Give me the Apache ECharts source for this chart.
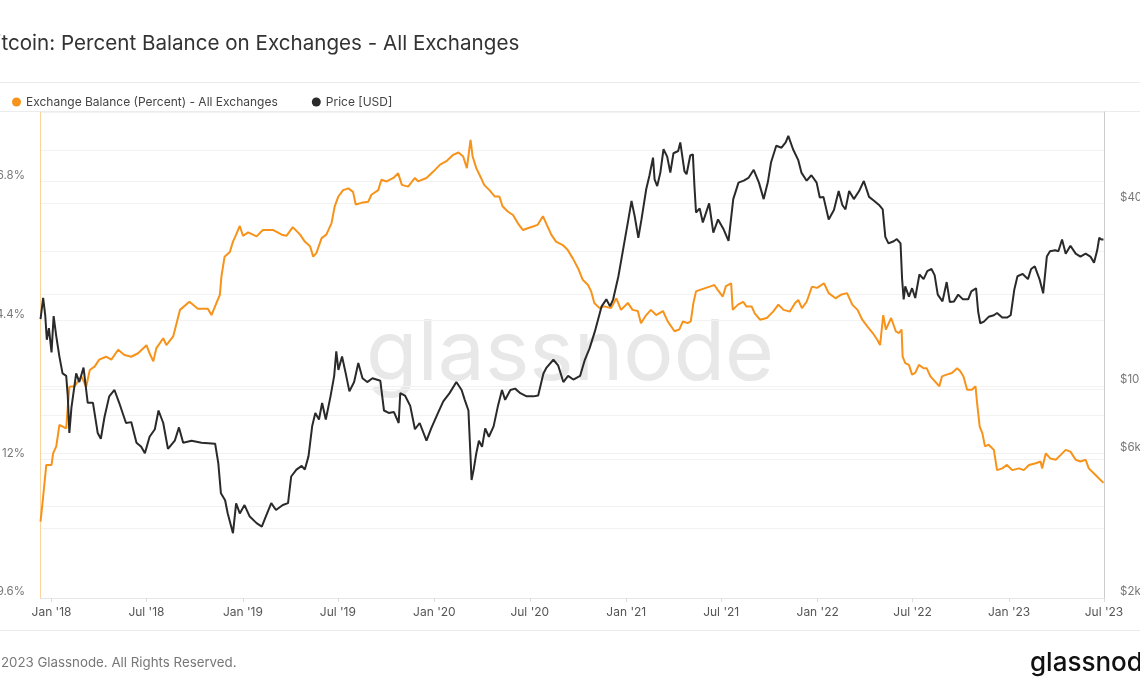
<!DOCTYPE html>
<html><head><meta charset="utf-8">
<script src="https://cdn.jsdelivr.net/npm/echarts@6/dist/echarts.min.js"></script>
<style>html,body{margin:0;padding:0;background:#fff;}#c{width:1140px;height:694px;}</style>
</head><body><div id="c"></div>
<script>
const balanceDates = ['2017-12-11','2017-12-16','2017-12-22','2018-01-01','2018-01-04','2018-01-10','2018-01-16','2018-01-29','2018-02-01','2018-02-04','2018-02-14','2018-02-27','2018-03-08','2018-03-15','2018-03-24','2018-04-02','2018-04-15','2018-04-25','2018-05-08','2018-05-20','2018-06-02','2018-06-15','2018-07-01','2018-07-07','2018-07-14','2018-07-20','2018-08-02','2018-08-08','2018-08-21','2018-09-03','2018-09-21','2018-10-07','2018-10-26','2018-11-02','2018-11-11','2018-11-18','2018-11-21','2018-11-27','2018-12-07','2018-12-13','2018-12-19','2018-12-26','2019-01-01','2019-01-11','2019-01-27','2019-02-08','2019-02-28','2019-03-16','2019-03-25','2019-04-06','2019-04-20','2019-04-29','2019-05-09','2019-05-15','2019-05-21','2019-05-31','2019-06-09','2019-06-19','2019-06-25','2019-07-02','2019-07-11','2019-07-21','2019-07-30','2019-08-04','2019-08-15','2019-08-28','2019-09-03','2019-09-16','2019-09-22','2019-10-02','2019-10-15','2019-10-24','2019-10-31','2019-11-12','2019-11-25','2019-12-01','2019-12-17','2019-12-30','2020-01-12','2020-01-24','2020-02-06','2020-02-16','2020-02-25','2020-03-03','2020-03-10','2020-03-14','2020-03-21','2020-03-30','2020-04-05','2020-04-15','2020-04-25','2020-05-04','2020-05-10','2020-05-20','2020-05-30','2020-06-08','2020-06-18','2020-06-27','2020-07-07','2020-07-16','2020-07-26','2020-08-01','2020-08-11','2020-08-20','2020-09-02','2020-09-11','2020-09-21','2020-10-01','2020-10-10','2020-10-20','2020-10-26','2020-11-01','2020-11-11','2020-11-20','2020-12-03','2020-12-13','2020-12-22','2021-01-04','2021-01-13','2021-01-23','2021-01-29','2021-02-08','2021-02-17','2021-02-27','2021-03-12','2021-03-21','2021-04-03','2021-04-12','2021-04-19','2021-04-28','2021-05-04','2021-05-09','2021-05-14','2021-05-23','2021-06-02','2021-06-12','2021-06-18','2021-06-24','2021-07-04','2021-07-10','2021-07-20','2021-07-23','2021-08-02','2021-08-12','2021-08-18','2021-08-28','2021-09-03','2021-09-13','2021-09-26','2021-10-08','2021-10-18','2021-10-28','2021-11-09','2021-11-19','2021-11-25','2021-12-02','2021-12-11','2021-12-21','2021-12-31','2022-01-13','2022-01-22','2022-02-04','2022-02-14','2022-02-26','2022-03-08','2022-03-18','2022-03-27','2022-04-06','2022-04-16','2022-04-25','2022-04-30','2022-05-06','2022-05-11','2022-05-21','2022-05-30','2022-06-05','2022-06-10','2022-06-12','2022-06-17','2022-06-24','2022-06-30','2022-07-06','2022-07-13','2022-07-22','2022-07-28','2022-08-04','2022-08-13','2022-08-21','2022-08-26','2022-09-04','2022-09-14','2022-09-24','2022-09-30','2022-10-06','2022-10-13','2022-10-22','2022-10-29','2022-11-01','2022-11-06','2022-11-11','2022-11-16','2022-11-23','2022-12-03','2022-12-09','2022-12-19','2022-12-28','2023-01-07','2023-01-20','2023-01-29','2023-02-08','2023-02-21','2023-03-02','2023-03-05','2023-03-12','2023-03-21','2023-03-31','2023-04-09','2023-04-19','2023-04-28','2023-05-08','2023-05-17','2023-05-27','2023-06-02','2023-06-11','2023-06-21','2023-06-30'];
const balanceValues = [10.92,11.35,11.90,11.90,12.10,12.22,12.59,12.53,12.91,13.25,13.26,13.43,13.25,13.54,13.60,13.72,13.77,13.72,13.89,13.80,13.77,13.83,13.97,13.83,13.69,13.92,14.09,13.97,14.12,14.58,14.72,14.60,14.60,14.49,14.69,14.84,15.16,15.50,15.58,15.76,15.88,16.03,15.86,15.92,15.85,15.96,15.96,15.88,15.86,16.01,15.88,15.76,15.68,15.50,15.56,15.82,15.88,16.08,16.37,16.54,16.65,16.68,16.62,16.40,16.43,16.45,16.57,16.65,16.83,16.80,16.86,16.94,16.74,16.71,16.86,16.80,16.86,16.97,17.09,17.15,17.26,17.30,17.23,17.03,17.52,17.23,17.03,16.86,16.74,16.65,16.54,16.54,16.37,16.28,16.22,16.08,15.96,15.99,16.02,16.05,16.20,16.08,15.88,15.76,15.70,15.62,15.47,15.30,15.10,15.01,14.90,14.70,14.61,14.64,14.61,14.78,14.58,14.70,14.58,14.56,14.35,14.49,14.58,14.49,14.56,14.38,14.21,14.24,14.38,14.35,14.38,14.70,14.90,14.93,14.96,14.99,15.01,14.93,14.81,14.99,15.04,14.58,14.67,14.72,14.64,14.64,14.52,14.41,14.44,14.55,14.67,14.58,14.55,14.70,14.75,14.61,14.72,14.98,14.96,15.04,14.87,14.78,14.84,14.87,14.67,14.58,14.41,14.29,14.18,14.06,13.97,14.49,14.24,14.44,14.21,14.18,14.24,13.77,13.66,13.63,13.46,13.49,13.63,13.57,13.57,13.43,13.34,13.26,13.43,13.46,13.49,13.57,13.52,13.43,13.20,13.20,13.26,12.97,12.56,12.45,12.22,12.25,12.16,11.81,11.84,11.90,11.81,11.84,11.81,11.90,11.93,11.96,11.84,12.10,12.01,11.99,12.07,12.16,12.13,11.99,11.96,11.99,11.84,11.76,11.67,11.59];

const priceDates = ['2017-12-11','2017-12-16','2017-12-20','2017-12-23','2017-12-27','2018-01-01','2018-01-05','2018-01-10','2018-01-16','2018-01-22','2018-01-29','2018-02-01','2018-02-04','2018-02-08','2018-02-17','2018-02-23','2018-03-03','2018-03-11','2018-03-21','2018-03-30','2018-04-05','2018-04-12','2018-04-21','2018-05-01','2018-05-10','2018-05-23','2018-06-02','2018-06-12','2018-06-21','2018-06-28','2018-07-07','2018-07-17','2018-07-24','2018-08-02','2018-08-11','2018-08-24','2018-09-01','2018-09-09','2018-09-25','2018-10-14','2018-11-09','2018-11-15','2018-11-20','2018-11-28','2018-12-03','2018-12-13','2018-12-19','2018-12-26','2019-01-04','2019-01-14','2019-01-27','2019-02-06','2019-02-12','2019-02-24','2019-03-05','2019-03-18','2019-03-28','2019-04-03','2019-04-13','2019-04-23','2019-04-29','2019-05-06','2019-05-13','2019-05-19','2019-05-26','2019-06-01','2019-06-08','2019-06-17','2019-06-24','2019-06-28','2019-07-02','2019-07-09','2019-07-16','2019-07-23','2019-08-01','2019-08-09','2019-08-17','2019-08-26','2019-09-05','2019-09-20','2019-09-27','2019-10-06','2019-10-16','2019-10-25','2019-10-28','2019-11-06','2019-11-16','2019-11-25','2019-12-04','2019-12-17','2019-12-26','2020-01-08','2020-01-18','2020-01-30','2020-02-12','2020-02-22','2020-02-28','2020-03-06','2020-03-12','2020-03-16','2020-03-21','2020-03-26','2020-04-01','2020-04-07','2020-04-14','2020-04-23','2020-05-01','2020-05-09','2020-05-15','2020-05-25','2020-06-03','2020-06-13','2020-06-25','2020-07-08','2020-07-17','2020-07-27','2020-08-02','2020-08-15','2020-08-24','2020-09-03','2020-09-12','2020-09-22','2020-10-05','2020-10-14','2020-10-23','2020-11-02','2020-11-08','2020-11-15','2020-11-24','2020-12-01','2020-12-07','2020-12-17','2020-12-26','2021-01-05','2021-01-11','2021-01-17','2021-01-24','2021-01-30','2021-02-08','2021-02-14','2021-02-21','2021-02-24','2021-03-01','2021-03-07','2021-03-13','2021-03-20','2021-03-26','2021-04-01','2021-04-10','2021-04-14','2021-04-22','2021-04-26','2021-05-03','2021-05-08','2021-05-11','2021-05-14','2021-05-21','2021-05-27','2021-06-08','2021-06-16','2021-06-25','2021-07-05','2021-07-15','2021-07-24','2021-08-03','2021-08-13','2021-08-22','2021-09-01','2021-09-11','2021-09-20','2021-09-28','2021-10-04','2021-10-14','2021-10-24','2021-11-01','2021-11-06','2021-11-15','2021-11-25','2021-12-01','2021-12-11','2021-12-20','2021-12-30','2022-01-05','2022-01-12','2022-01-22','2022-02-01','2022-02-10','2022-02-17','2022-02-23','2022-03-02','2022-03-11','2022-03-21','2022-03-30','2022-04-09','2022-04-19','2022-04-28','2022-05-05','2022-05-10','2022-05-16','2022-05-26','2022-06-01','2022-06-08','2022-06-11','2022-06-14','2022-06-17','2022-06-24','2022-06-30','2022-07-06','2022-07-14','2022-07-22','2022-07-29','2022-08-06','2022-08-12','2022-08-18','2022-08-27','2022-09-04','2022-09-10','2022-09-18','2022-09-26','2022-10-05','2022-10-15','2022-10-21','2022-10-30','2022-11-03','2022-11-07','2022-11-14','2022-11-23','2022-12-03','2022-12-09','2022-12-19','2022-12-28','2023-01-04','2023-01-11','2023-01-17','2023-01-27','2023-02-06','2023-02-12','2023-02-19','2023-02-28','2023-03-07','2023-03-14','2023-03-20','2023-03-30','2023-04-05','2023-04-12','2023-04-19','2023-04-28','2023-05-08','2023-05-17','2023-05-27','2023-06-05','2023-06-12','2023-06-18','2023-06-22','2023-06-26','2023-06-30'];
const priceValues = [16600,19500,17100,14200,15500,12900,17000,14600,12500,11000,10800,9240,7000,8500,11000,10300,11500,8800,8800,7000,6700,7900,9240,9700,8800,7550,7600,6500,6300,6000,6800,7200,8300,7550,6200,6600,7300,6500,6600,6500,6450,5570,4430,4200,3800,3270,4100,3800,4050,3710,3530,3440,3650,4110,3900,4050,4110,5030,5300,5450,5300,5860,7360,8150,7750,8790,7750,9240,10800,13000,11300,12500,11000,9600,10300,11900,10600,10300,10600,10400,8300,8150,8200,7550,9470,9300,8600,7200,7550,6600,7250,8150,8900,9470,10300,9700,9000,8300,4900,5300,6000,6600,6300,7250,6800,7360,8550,9700,9000,9700,9800,9470,9240,9240,9300,11000,11500,12200,11700,10300,10800,10500,10800,12200,13300,15100,16500,18300,19300,18300,19300,23000,28200,35400,40700,36300,30800,35400,44500,49200,56600,48000,45600,50500,60300,57000,50500,58500,59500,63500,51000,49900,57500,58000,45600,37300,38500,34600,40000,32000,35400,33000,30100,41300,46800,47500,48500,51600,46800,41300,47000,54500,61900,61000,63500,66700,60300,55500,50500,47500,49500,46800,41800,42000,35400,38000,43900,39500,38200,43900,41300,43900,47400,42000,40700,39500,38200,31000,29500,30000,30500,29500,22500,19300,21300,19700,21000,19500,23300,22500,23900,24300,23200,20000,19000,22000,18900,19000,20000,19300,19300,20500,21000,17600,16100,16300,16900,17100,17400,16800,16800,17100,20800,23000,23400,22500,24300,24800,22500,20200,26700,27800,28000,27800,30400,27300,29000,27300,26700,27300,26700,25500,28000,30800,30400,30400];

const xTickDates = ['2018-01-01','2018-07-01','2019-01-01','2019-07-01','2020-01-01','2020-07-01','2021-01-01','2021-07-01','2022-01-01','2022-07-01','2023-01-01','2023-07-01'];
const xTickLabels = ["Jan '18","Jul '18","Jan '19","Jul '19","Jan '20","Jul '20","Jan '21","Jul '21","Jan '22","Jul '22","Jan '23","Jul '23"];
const leftTickValues = [9.6, 12, 14.4, 16.8];
const leftTickLabels = ['9.6%', '12%', '14.4%', '16.8%'];
const rightTickValues = [2000, 6000, 10000, 40000];
const rightTickLabels = ['$2k', '$6k', '$10k', '$40k'];
const rightGridValues = [2000, 4000, 6000, 8000, 10000, 20000, 40000, 60000];

const FONT = 'Inter, "Noto Sans", sans-serif';
const chart = echarts.init(document.getElementById('c'), null, {renderer: 'canvas'});
const ts = d => Date.parse(d + 'T00:00:00Z');
const zip = (a, b) => a.map((d, i) => [ts(d), b[i]]);
const xTickTimes = xTickDates.map(ts);
const nearestLabel = (v, vals, labels) => {
  let best = 0, bd = Infinity;
  vals.forEach((x, i) => { const d = Math.abs(x - v); if (d < bd) { bd = d; best = i; } });
  return labels[best];
};

chart.setOption({
  animation: false,
  textStyle: {fontFamily: FONT},
  legend: {
    left: 7, top: 91, icon: 'circle', itemWidth: 9, itemHeight: 9, itemGap: 34,
    textStyle: {fontSize: 12, color: '#444', fontFamily: FONT},
    data: ['Exchange Balance (Percent) - All Exchanges', 'Price [USD]']
  },
  grid: {left: 40, right: 36, top: 112, bottom: 96, containLabel: false, outerBoundsMode: 'none'},
  xAxis: {
    type: 'value', min: ts('2017-12-10'), max: ts('2023-07-01'),
    axisLine: {show: true, lineStyle: {color: '#e6e6e6'}},
    axisTick: {show: true, length: 4, lineStyle: {color: '#dddddd'}, customValues: xTickTimes},
    axisLabel: {customValues: xTickTimes, color: '#555', fontSize: 12, margin: 8, fontFamily: FONT, showMaxLabel: true, hideOverlap: false,
      formatter: v => nearestLabel(v, xTickTimes, xTickLabels)},
    splitLine: {show: false}
  },
  yAxis: [{
    type: 'value', position: 'left', min: 9.6, max: 18, interval: 1.2,
    axisLine: {show: true, lineStyle: {color: '#fdd39c', width: 1}},
    axisTick: {show: false},
    axisLabel: {customValues: leftTickValues, color: '#777', fontSize: 11.5, margin: 15, verticalAlign: 'bottom', fontFamily: FONT,
      formatter: v => nearestLabel(v, leftTickValues, leftTickLabels)},
    splitLine: {show: true, lineStyle: {color: '#f2f2f2'}}
  }, {
    type: 'log', logBase: 10, position: 'right', min: 2000, max: 80000,
    axisLine: {show: true, lineStyle: {color: '#cccccc'}},
    axisTick: {show: false, customValues: rightGridValues},
    axisLabel: {customValues: rightTickValues, color: '#777', fontSize: 11.5, margin: 16, verticalAlign: 'bottom', fontFamily: FONT,
      formatter: v => nearestLabel(v, rightTickValues, rightTickLabels)},
    splitLine: {show: true, lineStyle: {color: '#f2f2f2'}}
  }],
  graphic: [
    {type: 'text', left: -17, top: 33, z: 10, style: {text: 'Bitcoin: Percent Balance on Exchanges - All Exchanges', fontSize: 20.6, fontFamily: FONT, fill: '#333'}},
    {type: 'rect', shape: {x: 0, y: 82, width: 1140, height: 1}, style: {fill: '#ececec'}},
    {type: 'rect', shape: {x: 0, y: 111, width: 1140, height: 1}, style: {fill: '#ececec'}},
    {type: 'rect', shape: {x: 0, y: 630, width: 1140, height: 1}, style: {fill: '#ececec'}},
    {type: 'text', x: 570, y: 355, z: 0, style: {text: 'glassnode', fontSize: 84, fontFamily: FONT, fill: '#e8e8e8', align: 'center', verticalAlign: 'middle'}},
    {type: 'text', left: -15, top: 656, style: {text: '\u00a9 2023 Glassnode. All Rights Reserved.', fontSize: 13.3, fontFamily: FONT, fill: '#777'}},
    {type: 'text', x: 1030, y: 663, style: {text: 'glassnode', fontSize: 26, fontWeight: 500, fontFamily: FONT, fill: '#111', verticalAlign: 'middle'}}
  ],
  series: [{
    name: 'Exchange Balance (Percent) - All Exchanges', type: 'line', yAxisIndex: 0, showSymbol: false,
    data: zip(balanceDates, balanceValues),
    lineStyle: {color: '#f7931a', width: 2}, itemStyle: {color: '#f7931a'}
  }, {
    name: 'Price [USD]', type: 'line', yAxisIndex: 1, showSymbol: false,
    data: zip(priceDates, priceValues),
    lineStyle: {color: '#2a2a2a', width: 2}, itemStyle: {color: '#2a2a2a'}
  }]
});
</script></body></html>
